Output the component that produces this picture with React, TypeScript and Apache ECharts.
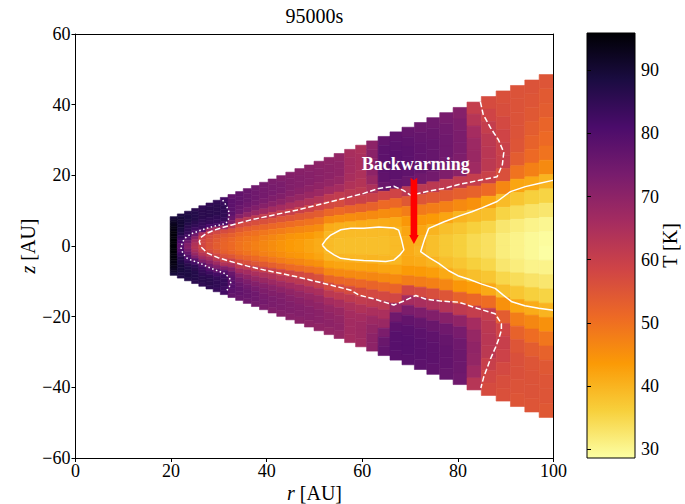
import { useEffect, useRef } from "react";
import * as echarts from "echarts";

const SERIF = "Liberation Serif, Times New Roman, DejaVu Serif, serif";

// ---- disk model grid -------------------------------------------------------
// radial cell edges [AU]
const R_EDGES = [
  19.8, 21.3, 22.8, 24.3, 25.8, 27.3, 28.8, 30.3, 31.9, 33.5, 35.1, 36.8, 38.5,
  40.3, 42.1, 44.0, 45.9, 47.9, 49.9, 52.0, 54.1, 56.3, 58.6, 60.9, 63.3, 65.8,
  68.3, 70.9, 73.5, 76.2, 79.0, 81.9, 84.9, 88.0, 91.0, 94.0, 97.0, 100.0,
];
// number of polar cells per column (top to bottom)
const N_THETA = 24;
// wedge opening: column half height = SLOPE * r + OFFSET
const WEDGE_SLOPE = 0.516;
const WEDGE_OFFSET = -2.3;

// gas temperature [K], one column per radial cell, rows from top (z>0) to bottom (z<0)
const T_COLUMNS: number[][] = [
  [89, 91, 92, 93, 94, 94, 95, 95, 95, 95.5, 95.5, 95.5, 95.5, 95.5, 95.5, 95, 95, 95, 94, 94, 93, 92, 91, 89],
  [88, 89, 90, 90, 90, 89, 88, 87, 85, 83, 81, 79, 79, 80, 82, 84, 86, 87, 88, 89, 89, 89, 88, 87],
  [87, 88, 88, 88, 87, 86, 85, 84, 82, 79, 75, 72, 71, 73, 76, 79, 81, 84, 86, 87, 88, 88, 88, 87],
  [86, 87, 87, 87, 86, 85, 83, 80, 75, 70, 66, 64, 63, 65, 68, 72, 78, 82, 85, 86, 87, 87, 87, 86],
  [85, 86, 86, 86, 85, 84, 83, 78, 65, 59, 58, 58, 58, 60, 63, 67, 72, 78, 82, 84, 85, 86, 86, 85],
  [85, 86, 86, 86, 85, 84, 81, 68, 59, 57, 56, 55.5, 55.5, 57, 61, 65, 70, 74, 79, 83, 85, 86, 86, 85],
  [85, 86, 86, 86, 85, 84, 82, 66, 58, 55, 54, 53.5, 53.5, 55, 58, 62, 67, 72, 77, 82, 84, 85, 85, 84],
  [82, 84, 85, 85, 85, 84, 81, 67, 57, 54, 52.5, 52, 52, 53, 56, 59.5, 64, 72, 79, 83, 84, 84, 83, 82],
  [77, 78, 78, 78, 78, 76, 72, 62, 56, 53, 51.5, 51, 51, 52, 55, 59.5, 65, 71, 76, 78, 78.5, 79, 78, 77],
  [77, 77, 77, 76, 75, 71, 63, 57.5, 54, 51.5, 50, 49.5, 49.5, 50.5, 53, 57, 61.5, 66, 71, 74, 76, 77, 77, 76],
  [76, 76, 76, 75, 73, 69, 62, 57, 53, 50.5, 49, 48.5, 48.5, 49.5, 52, 56, 61.5, 66, 69.5, 72.5, 74.5, 76, 76, 75],
  [75, 75, 75, 74, 72, 68, 61.5, 56.5, 52.5, 50, 48.5, 47.5, 47.5, 48.5, 51, 55, 60.5, 65, 68.5, 71.5, 73.5, 75, 75, 74],
  [74, 74, 74, 73, 71, 67, 61, 56, 52, 49, 47.5, 46.5, 46.5, 47.5, 50, 54, 60, 64.5, 68, 71, 72.5, 73.5, 74, 73],
  [73, 73.5, 73.5, 72.5, 70.5, 66.5, 60.5, 55.5, 51.5, 48.5, 46.5, 45.5, 45.5, 46.5, 49, 53, 59.5, 64, 67.5, 70.5, 72, 73, 73, 72],
  [72, 73, 73, 72, 70, 66, 60, 55, 51, 48, 45.5, 44.5, 44.5, 45.5, 48, 52, 58.5, 63, 67, 70, 72, 72.5, 72.5, 71.5],
  [71.5, 72, 72, 71, 69, 65, 60, 55, 50.5, 47, 44.5, 43.5, 43.5, 44.5, 47, 51, 58, 62.5, 66.5, 69.5, 71, 72, 72, 71],
  [71, 71.5, 71.5, 70.5, 68.5, 64.5, 59.5, 54.5, 50, 46.5, 44, 43, 43, 44, 46.5, 50.5, 57.5, 62, 66, 69, 70.5, 71.5, 71.5, 70.5],
  [70.5, 71, 71, 70, 68, 64, 59, 54, 49.5, 46, 43.5, 42, 42, 43, 45.5, 50, 57, 61.5, 65.5, 68.5, 70, 71, 71, 70],
  [70, 70.5, 70.5, 69.5, 67.5, 63.5, 58.5, 53.5, 49, 45.5, 42.5, 41, 41, 42, 45, 49.5, 56, 60.5, 65, 68, 69.5, 70.5, 70.5, 69.5],
  [69.5, 70, 70, 69, 66.5, 61.5, 57.5, 51.5, 46, 41, 39.5, 39, 39, 40, 42.5, 46.5, 52, 57.5, 62, 66, 68.5, 69.5, 70, 69],
  [69, 69.5, 69.5, 68.5, 66, 61, 57, 51, 45.5, 40.5, 39, 38.5, 38.5, 39.8, 42, 46, 51.5, 57, 61.5, 65.5, 68, 69, 69.5, 68.5],
  [65.5, 66, 66, 65.5, 64, 62, 59, 52, 45.5, 40.5, 39, 38.5, 38.5, 39.7, 42, 46, 51.5, 57, 61.5, 64.5, 66, 66.5, 66.5, 66],
  [64.5, 65, 65, 64.5, 63.5, 62, 59.5, 52.5, 46, 41, 39, 38.5, 38.5, 39.7, 42, 46, 51.5, 57, 61, 64, 66, 67, 67, 66.5],
  [70, 70.5, 70.5, 70, 68, 64.5, 59.5, 52.5, 46, 41, 39, 38.5, 38.5, 39.8, 42.5, 46.5, 52, 57.5, 61.5, 65, 67.5, 69, 70, 70],
  [77, 78, 78, 78, 77.5, 76, 58.5, 51, 45.5, 41, 39, 38.5, 38.5, 39.5, 42, 46, 51.5, 57.5, 62, 65, 68, 73, 76, 77],
  [77.5, 78, 78.5, 78.5, 78, 76.5, 58.5, 51.5, 46, 41.5, 39.5, 39, 39, 39.5, 42, 46, 52, 58, 68, 75, 78, 79, 79, 78.5],
  [76.5, 77.5, 78, 78, 77.5, 76, 62, 54.5, 48, 44, 42, 41, 41, 41.5, 43.5, 48, 58, 66, 73, 77, 78.5, 79, 79, 78.5],
  [75.5, 76.5, 77, 77, 76.5, 75, 62, 55, 48.5, 44, 42, 40.5, 39.8, 41, 43.5, 48, 57.5, 65.5, 72.5, 76.5, 78, 78.5, 78.5, 78],
  [75, 76, 76.5, 76.5, 76, 74.5, 62, 54.5, 48, 43.5, 40, 38.5, 38.5, 40, 43, 47.5, 56.5, 64.5, 72, 76, 77.5, 78, 78, 77.5],
  [73.5, 74.5, 75, 75, 74.5, 72.5, 61.5, 54, 47.5, 42, 38.5, 37, 37, 38.5, 41.5, 46.5, 55, 63.5, 71, 75, 76.5, 77, 77, 76.5],
  [71.5, 72.5, 73, 73, 72.5, 70.5, 61, 53, 46, 40, 37.5, 36, 36, 37.5, 39.5, 44, 52.5, 61.5, 69.5, 73.5, 75, 75.5, 75.5, 75],
  [60.5, 63, 66, 67.5, 68, 67, 60.5, 52.5, 45, 39, 36, 34.5, 34.5, 36, 38.5, 43, 51.5, 60.5, 66, 68.5, 69.5, 69, 67, 63],
  [57, 58.5, 60.5, 62, 62.5, 62, 59.5, 51, 42, 38.5, 35, 33.5, 33.5, 35, 37.5, 41.5, 50.5, 60.5, 62, 62.5, 62, 60, 58, 57],
  [56, 56.5, 57.5, 58.5, 59.5, 60, 56, 46.5, 39, 35.5, 32.5, 31.5, 31.5, 32.5, 35, 38.5, 45, 53.5, 58.5, 60, 59, 57.5, 56.5, 56],
  [55.5, 55.5, 55.5, 55.5, 55, 53.5, 49.5, 42, 37.5, 34, 31.5, 30.5, 30.5, 31.5, 34, 37.5, 42, 48, 52.5, 55, 56, 56, 55.5, 55],
  [55.5, 55, 54.5, 53.5, 52.5, 51, 47.5, 41.5, 36, 33, 30.5, 29.5, 29.5, 30.5, 33, 36, 41, 46.5, 50.5, 53.5, 55, 55.5, 55.5, 55],
  [55, 54, 53.5, 52, 51, 49.5, 46, 40, 35.5, 32.5, 30, 29, 28.7, 30.5, 32.5, 35.5, 40, 45, 49, 52.5, 54.5, 55, 55, 54.5],
];

// colour scale limits [K] and colorbar ticks
const T_MIN = 28.6;
const T_MAX = 95.9;
const CB_TICKS = [30, 40, 50, 60, 70, 80, 90];

// isotherms [r, z] in AU
const ISO_80K = [
  [30.8, 13.0], [31.6, 11.3], [32.2, 9.3], [32.0, 7.6], [31.5, 6.4], [30.0, 5.9],
  [28.7, 5.5], [26.5, 4.6], [24.5, 3.6], [23.2, 2.6], [22.4, 1.2], [22.1, -0.2],
  [22.1, -1.1], [23.1, -3.3], [24.2, -4.0], [26.6, -5.2], [27.6, -5.9], [29.5, -6.9],
  [31.1, -7.7], [32.2, -9.0], [32.5, -10.1], [32.2, -11.5], [31.5, -12.9],
];
const ISO_60K = [
  [84.7, 40.8], [85.3, 37.2], [86.8, 33.5], [88.5, 30.0], [89.6, 26.5], [89.3, 23.0],
  [88.2, 19.6], [84.5, 18.6], [80.5, 17.5], [77.0, 16.3], [73.5, 15.4], [70.1, 14.4],
  [68.5, 15.8], [66.6, 16.9], [63.5, 16.3], [60.3, 14.9], [54.8, 13.0], [50.6, 11.6],
  [46.4, 10.2], [41.5, 8.8], [36.7, 7.4], [32.5, 5.9], [29.0, 4.5], [27.2, 3.4],
  [26.2, 2.4], [25.9, 1.2], [26.3, -0.3], [27.6, -2.0], [29.8, -3.3], [32.5, -4.4],
  [36.0, -5.7], [39.5, -6.8], [46.3, -8.7], [52.0, -10.6], [57.6, -12.5], [59.3, -13.9],
  [62.5, -15.0], [66.6, -16.7], [68.8, -15.5], [71.2, -14.0], [73.2, -15.0], [76.5, -15.6],
  [80.2, -15.9], [84.0, -17.6], [87.8, -19.2], [89.1, -22.0], [89.1, -23.8], [88.5, -26.5],
  [87.9, -28.6], [86.8, -32.0], [85.4, -37.1], [84.8, -40.2],
];
const ISO_40K_INNER = [
  [51.6, 0.3], [52.4, 1.8], [53.4, 3.1], [55.5, 4.6], [57.6, 5.0], [60.3, 5.0],
  [63.5, 5.4], [66.6, 5.1], [67.6, 4.5], [68.2, 1.8], [68.7, -1.1], [67.8, -2.6],
  [66.6, -4.0], [64.9, -4.4], [62.0, -4.2], [60.3, -4.1], [57.5, -3.8], [55.5, -3.5],
  [54.1, -2.5], [52.6, -1.2], [51.6, 0.3],
];
const ISO_40K_OUTER = [
  [100.0, 18.6], [99.6, 18.5], [96.9, 17.7], [94.1, 16.8], [91.0, 15.4], [88.2, 12.6],
  [85.0, 10.8], [82.9, 9.7], [80.5, 8.6], [77.0, 6.8], [73.9, 5.0], [73.0, 1.8],
  [72.2, -1.6], [74.0, -3.3], [76.0, -4.9], [78.1, -7.0], [80.0, -8.4], [82.3, -9.4],
  [85.0, -10.8], [87.8, -12.0], [89.5, -13.9], [91.3, -15.8], [94.0, -16.9], [96.9, -17.6],
  [99.6, -18.1], [100.0, -18.2],
];

// annotation: arrow [r, z_from, z_to] and its label [r, z]
const ARROW = [70.8, 19.3, 0.6];
const NOTE_POS = [71.2, 23.3];
const NOTE_TEXT = "Backwarming";
const TITLE = "95000s";

// inferno colormap, dark to light
const INFERNO = [
  "#000004", "#1B0C42", "#4B0C6B", "#781C6D", "#A52C60",
  "#CF4446", "#ED6925", "#FB9A06", "#F7D03C", "#FCFFA4",
];

const halfHeight = (r: number) => WEDGE_SLOPE * r + WEDGE_OFFSET;

function tempColor(T: number): string {
  const n = Math.min(1, Math.max(0, (T_MAX - T) / (T_MAX - T_MIN)));
  return echarts.color.lerp(n, INFERNO) as string;
}

function buildOption(): any {
  const cells: number[][] = [];
  T_COLUMNS.forEach((col, i) => {
    const rc = (R_EDGES[i] + R_EDGES[i + 1]) / 2;
    const h = halfHeight(rc);
    col.forEach((T, j) => {
      const zc = h * (1 - (2 * j + 1) / N_THETA);
      cells.push([rc, zc, T, i, j]);
    });
  });

  const minus = (v: number) => (v < 0 ? "\u2212" + Math.abs(v) : String(v));
  const labelStyle = { fontFamily: SERIF, fontSize: 18, color: "#000" };
  const spine = { show: true, onZero: false, lineStyle: { color: "#000", width: 1 } };
  const tick = { show: true, length: 4, inside: false, lineStyle: { color: "#000", width: 1 } };
  const nameStyle = {
    fontFamily: SERIF, fontSize: 20, color: "#000",
    rich: { i: { fontFamily: SERIF, fontSize: 20, fontStyle: "italic", color: "#000" } },
  };

  const isoLine = (data: number[][], type: any) => ({
    type: "line",
    xAxisIndex: 0,
    yAxisIndex: 0,
    data,
    symbol: "none",
    showSymbol: false,
    silent: true,
    z: 4,
    lineStyle: { color: "#ffffff", width: 1.5, type },
  });

  const gradientStops = INFERNO.map((c, i) => ({ offset: i / (INFERNO.length - 1), color: c }));

  return {
    animation: false,
    backgroundColor: "#ffffff",
    textStyle: { fontFamily: SERIF },
    grid: [
      { left: 75.5, top: 34, width: 478, height: 424, containLabel: false, outerBoundsMode: "none" },
      { left: 587, top: 33, width: 48, height: 425, containLabel: false, outerBoundsMode: "none" },
    ],
    xAxis: [
      {
        gridIndex: 0, type: "value", min: 0, max: 100, interval: 20, position: "bottom", z: 10,
        axisLine: spine, axisTick: tick, splitLine: { show: false },
        axisLabel: { ...labelStyle, margin: 4 },
        name: "{i|r} [AU]", nameLocation: "middle", nameGap: 25, nameMoveOverlap: false,
        nameTextStyle: nameStyle,
      },
      {
        gridIndex: 0, type: "value", min: 0, max: 100, position: "top", z: 10,
        axisLine: spine, axisTick: { show: false }, axisLabel: { show: false }, splitLine: { show: false },
      },
      { gridIndex: 1, type: "value", min: 0, max: 1, show: false },
    ],
    yAxis: [
      {
        gridIndex: 0, type: "value", min: -60, max: 60, interval: 20, position: "left", z: 10,
        axisLine: spine, axisTick: tick, splitLine: { show: false },
        axisLabel: { ...labelStyle, margin: 5, formatter: minus },
        name: "{i|z} [AU]", nameLocation: "middle", nameGap: 38, nameRotate: 90, nameMoveOverlap: false,
        nameTextStyle: nameStyle,
      },
      {
        gridIndex: 0, type: "value", min: -60, max: 60, position: "right", z: 10,
        axisLine: spine, axisTick: { show: false }, axisLabel: { show: false }, splitLine: { show: false },
      },
      {
        gridIndex: 1, type: "value", min: T_MIN, max: T_MAX, position: "right", z: 10,
        axisLine: { show: false },
        axisTick: { ...tick, customValues: CB_TICKS },
        axisLabel: { ...labelStyle, margin: 6, customValues: CB_TICKS },
        splitLine: { show: false },
        name: "T [K]", nameLocation: "middle", nameGap: 25, nameRotate: 90, nameMoveOverlap: false,
        nameTextStyle: { fontFamily: SERIF, fontSize: 20, color: "#000" },
      },
    ],
    graphic: [
      {
        type: "text", x: 314.5, y: 15.5, silent: true,
        style: {
          text: TITLE, font: "20px " + SERIF, fill: "#000",
          align: "center", verticalAlign: "middle",
        },
      },
    ],
    series: [
      {
        type: "custom",
        name: "temperature",
        xAxisIndex: 0,
        yAxisIndex: 0,
        silent: true,
        z: 2,
        data: cells,
        renderItem: (_p: any, api: any) => {
          const i = api.value(3);
          const j = api.value(4);
          const T = api.value(2);
          const r0 = R_EDGES[i];
          const r1 = R_EDGES[i + 1];
          const h = halfHeight((r0 + r1) / 2);
          const zTop = h * (1 - (2 * j) / N_THETA);
          const zBot = h * (1 - (2 * (j + 1)) / N_THETA);
          const a = api.coord([r0, zTop]);
          const b = api.coord([r1, zBot]);
          const c = tempColor(T);
          return {
            type: "rect",
            shape: { x: a[0], y: a[1], width: b[0] - a[0], height: b[1] - a[1] },
            style: { fill: c, stroke: c, lineWidth: 0.6 },
          };
        },
      },
      isoLine(ISO_80K, [1.5, 2.5]),
      isoLine(ISO_60K, [5.5, 2.5]),
      isoLine(ISO_40K_INNER, "solid"),
      isoLine(ISO_40K_OUTER, "solid"),
      {
        type: "custom",
        name: "arrow",
        xAxisIndex: 0,
        yAxisIndex: 0,
        silent: true,
        z: 6,
        data: [ARROW],
        renderItem: (_p: any, api: any) => {
          const top = api.coord([api.value(0), api.value(1)]);
          const tip = api.coord([api.value(0), api.value(2)]);
          const x = top[0];
          const w = 3.3;
          const hw = 4.8;
          const hb = tip[1] - 9;
          return {
            type: "polygon",
            shape: {
              points: [
                [x - w, top[1]], [x, top[1] + 2.5], [x + w, top[1]],
                [x + w, hb], [x + hw, hb], [x, tip[1]], [x - hw, hb], [x - w, hb],
              ],
            },
            style: { fill: "#ff0000" },
          };
        },
      },
      {
        type: "custom",
        name: "note",
        xAxisIndex: 0,
        yAxisIndex: 0,
        silent: true,
        z: 7,
        data: [NOTE_POS],
        renderItem: (_p: any, api: any) => {
          const p = api.coord([api.value(0), api.value(1)]);
          return {
            type: "text",
            x: p[0],
            y: p[1],
            style: {
              text: NOTE_TEXT, font: "bold 18px " + SERIF,
              fill: "#ffffff", align: "center", verticalAlign: "middle",
            },
          };
        },
      },
      {
        type: "custom",
        name: "colorbar",
        xAxisIndex: 2,
        yAxisIndex: 2,
        silent: true,
        z: 2,
        data: [[0, T_MIN, T_MAX]],
        renderItem: (_p: any, api: any) => {
          const a = api.coord([0, api.value(2)]);
          const b = api.coord([1, api.value(1)]);
          return {
            type: "rect",
            shape: { x: a[0], y: a[1], width: b[0] - a[0], height: b[1] - a[1] },
            style: {
              fill: new echarts.graphic.LinearGradient(0, 0, 0, 1, gradientStops),
              stroke: "#000",
              lineWidth: 1,
            },
          };
        },
      },
    ],
  };
}

export default function App() {
  const ref = useRef<HTMLDivElement>(null);
  useEffect(() => {
    if (!ref.current) return;
    const chart = echarts.init(ref.current, null, { renderer: "svg" });
    chart.setOption(buildOption());
    return () => chart.dispose();
  }, []);
  return (
    <div
      ref={ref}
      style={{ position: "fixed", left: 0, top: 0, width: 685, height: 504, background: "#fff" }}
    />
  );
}
